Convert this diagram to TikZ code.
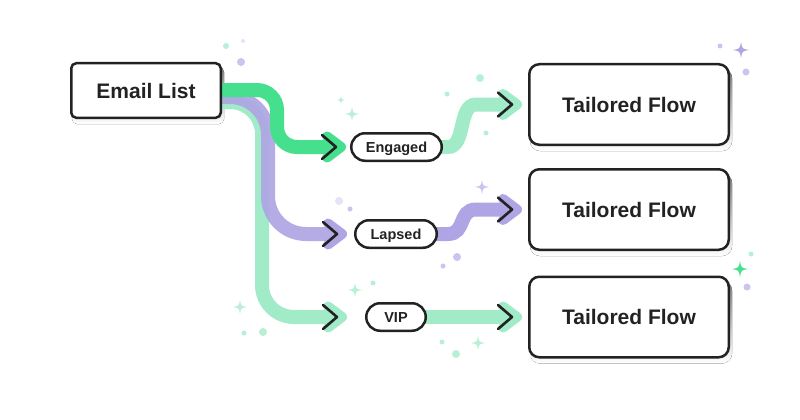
\documentclass[tikz,border=0pt]{standalone}
\usepackage{fontspec}
\setmainfont{Liberation Sans}
\usetikzlibrary{calc,backgrounds}
\definecolor{ink}{HTML}{222222}
\definecolor{gB}{HTML}{45DF8D}
\definecolor{gL}{HTML}{A2EBC8}
\definecolor{pu}{HTML}{AFA5E4}
\definecolor{gS}{HTML}{B8F0D5}
\definecolor{pS}{HTML}{CBC4F0}
\definecolor{pF}{HTML}{E6E2F8}
\definecolor{shade}{HTML}{EEEEF1}
\tikzset{
  flow/.style={line width=14pt, line cap=butt},
  box/.style={draw=ink, line width=2.5pt, fill=white, text=ink, inner sep=0pt,
    text height=15pt, text depth=0pt,
    font=\bfseries\fontsize{21}{25}\selectfont},
  flowbox/.style={box, minimum width=199.5pt, minimum height=80.5pt, rounded corners=10pt},
  pill/.style={draw=ink, line width=2.5pt, fill=white, text=ink, rounded corners=13.75pt,
    minimum height=27.5pt, inner sep=0pt, text height=10.4pt, text depth=0pt,
    font=\bfseries\fontsize{14.5}{17}\selectfont},
  pics/chev/.style={code={
    \draw[#1, line width=10pt, line cap=round, line join=round] (-19,-10.5) -- (-5,0) -- (-19,10.5);
    \draw[ink, line width=2.6pt, line cap=round, line join=round] (-24,-12) -- (-10,0) -- (-24,12);
  }},
  pics/spark/.style={code={
    \fill[#1] (0,-1) .. controls (0.15,-0.15) .. (1,0) .. controls (0.15,0.15) .. (0,1)
      .. controls (-0.15,0.15) .. (-1,0) .. controls (-0.15,-0.15) .. (0,-1) -- cycle;
  }},
}
\begin{document}
\begin{tikzpicture}[x=1pt,y=-1pt]
\useasboundingbox (0,0) rectangle (800,420);

% nodes
\node[box, minimum width=149.5pt, minimum height=54.5pt, rounded corners=5pt] (email) at (146,90.5) {Email List};
\node[flowbox] (f1) at (629,104.5) {Tailored Flow};
\node[flowbox] (f2) at (629,209.5) {Tailored Flow};
\node[flowbox] (f3) at (629,317) {Tailored Flow};
\node[pill, minimum width=90.5pt] (eng) at (396.5,147) {Engaged};
\node[pill, minimum width=81.5pt] (lap) at (396,234) {Lapsed};
\node[pill, minimum width=59.5pt] (vip) at (396,317) {VIP};

% arrow tips
\coordinate (tE) at (346,147);
\coordinate (tL) at (347,234);
\coordinate (tV) at (347,317);
\coordinate (t1) at ($(f1.west)+(-6,0)$);
\coordinate (t2) at ($(f2.west)+(-6,0)$);
\coordinate (t3) at ($(f3.west)+(-6,0)$);

\begin{pgfonlayer}{background}
  \fill[white] (0,0) rectangle (800,420);
  % shadows
  \fill[shade, rounded corners=5pt] ($(email.south west)+(2,5)$) rectangle ($(email.north east)+(2,5)$);
  \foreach \b in {f1,f2,f3}
    \fill[shade, rounded corners=10pt] ($(\b.south west)+(2,5)$) rectangle ($(\b.north east)+(2,5)$);
  % flows from the list
  \draw[flow, gL, rounded corners=32pt] ($(email.east)+(-6,11.5)$) -| ($(tV)+(-85,0)$) -- ($(tV)+(-14,0)$);
  \draw[flow, pu, opacity=0.92, rounded corners=38pt] ($(email.east)+(-6,6.5)$) -| ($(tL)+(-79,0)$) -- ($(tL)+(-14,0)$);
  \draw[flow, gB, rounded corners=20pt] ($(email.east)+(-6,-0.5)$) -| ($(tE)+(-69,0)$) -- ($(tE)+(-14,0)$);
  % flows to tailored flows
  \draw[flow, gL] ($(eng.east)+(-4,0)$) -- (448,147) .. controls (466,147) and (458,104.5) .. (476,104.5) -- ($(t1)+(-14,0)$);
  \draw[flow, pu] ($(lap.east)+(-4,0)$) -- (448,234) .. controls (466,234) and (458,209.5) .. (476,209.5) -- ($(t2)+(-14,0)$);
  \draw[flow, gL] ($(vip.east)+(-4,0)$) -- ($(t3)+(-14,0)$);
\end{pgfonlayer}

% arrowheads
\pic at (tE) {chev=gB};
\pic at (tL) {chev=pu};
\pic at (tV) {chev=gL};
\pic at (t1) {chev=gL};
\pic at (t2) {chev=pu};
\pic at (t3) {chev=gL};

% sparkles
\pic[scale=4] at (341,100) {spark=gS};
\pic[scale=7] at (352,114) {spark=gS};
\pic[scale=7] at (482,187) {spark=pS};
\pic[scale=7] at (240,307) {spark=gS};
\pic[scale=7] at (355,290) {spark=gS};
\pic[scale=7] at (478,343) {spark=gS};
\pic[scale=8] at (741,50) {spark=pu};
\pic[scale=8] at (740,269) {spark=gB};

% dots
\fill[gS] (226,46) circle (3pt);
\fill[pF] (243,41) circle (2pt);
\fill[pS] (241,62) circle (4pt);
\fill[gS] (480,78) circle (4pt);
\fill[gS] (447,94) circle (2.5pt);
\fill[gS] (486,133) circle (2.5pt);
\fill[pF] (339,201) circle (4pt);
\fill[pS] (350,209) circle (2.5pt);
\fill[pS] (457,257) circle (4pt);
\fill[pS] (443,266) circle (2.5pt);
\fill[gS] (244,333) circle (2.5pt);
\fill[gS] (263,332) circle (4pt);
\fill[gS] (373,283) circle (2.5pt);
\fill[gS] (442,342) circle (2.5pt);
\fill[gS] (456,354) circle (4pt);
\fill[pS] (720,46) circle (2.5pt);
\fill[pS] (746,72) circle (3.5pt);
\fill[gS] (751,254) circle (2.5pt);
\fill[pS] (747,287) circle (3.5pt);
\end{tikzpicture}
\end{document}
